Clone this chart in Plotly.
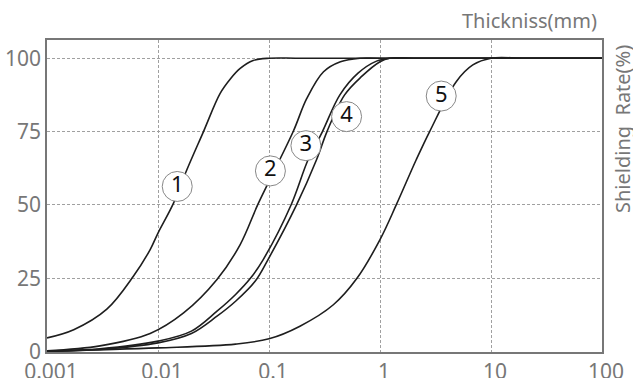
import plotly.graph_objects as go

# thickness (mm) vs shielding rate (%), five materials
x1 = [0.001, 0.00174, 0.00346, 0.006, 0.0085, 0.01, 0.0138, 0.0182, 0.0257, 0.0363, 0.045, 0.055, 0.072, 0.1, 0.2, 100]
y1 = [4.7, 7.5, 14.5, 25.7, 34.8, 40.4, 50.6, 62.0, 75.0, 88.0, 93.0, 96.5, 99.2, 100, 100, 100]

x2 = [0.001, 0.003, 0.0085, 0.017, 0.034, 0.055, 0.079, 0.103, 0.166, 0.219, 0.31, 0.44, 0.66, 1.0, 100]
y2 = [0.3, 2.0, 6.2, 13.2, 24.6, 36.5, 50.0, 59.0, 75.2, 86.3, 95.4, 98.8, 100, 100, 100]

x3 = [0.001, 0.003, 0.01, 0.02, 0.034, 0.05, 0.068, 0.0887, 0.158, 0.225, 0.303, 0.435, 0.634, 0.93, 1.22, 2.0, 100]
y3 = [0.2, 1.0, 3.6, 7.0, 13.8, 19.5, 25.0, 31.4, 50.0, 65.4, 75.0, 87.5, 94.9, 99.0, 100, 100, 100]

x4 = [0.001, 0.003, 0.01, 0.02, 0.034, 0.05, 0.075, 0.098, 0.177, 0.268, 0.333, 0.48, 0.68, 1.0, 1.22, 2.0, 100]
y4 = [0.1, 0.8, 3.0, 6.2, 12.1, 17.2, 24.0, 31.4, 50.0, 65.4, 75.0, 87.5, 93.7, 98.8, 100, 100, 100]

x5 = [0.001, 0.01, 0.05, 0.1, 0.19, 0.38, 0.62, 1.0, 1.4, 2.12, 2.8, 4.86, 6.86, 10, 20, 100]
y5 = [0.2, 1.3, 2.6, 4.4, 8.7, 16.0, 25.0, 38.2, 50.0, 65.4, 75.0, 92.0, 97.7, 100, 100, 100]

# circled curve numbers
label_text = ["1", "2", "3", "4", "5"]
label_x = [0.0149, 0.103, 0.215, 0.50, 3.56]
label_y = [56.3, 61.6, 70.2, 80.1, 87.1]

y_ticks = [0, 25, 50, 75, 100]
x_ticks = [0.001, 0.01, 0.1, 1, 10, 100]
x_tick_text = ["0.001", "0.01", "0.1", "1", "10", "100"]

gray = "#777777"
font = "Noto Sans"

fig = go.Figure()
for xs, ys in [(x1, y1), (x2, y2), (x3, y3), (x4, y4), (x5, y5)]:
    fig.add_trace(go.Scatter(x=xs, y=ys, mode="lines",
                             line=dict(color="#1e1e1e", width=1.6, shape="spline", smoothing=1.0)))

fig.add_trace(go.Scatter(x=label_x, y=label_y, mode="markers+text", text=label_text,
                         textposition="middle center",
                         textfont=dict(family=font, size=22, color="#111111"),
                         marker=dict(size=30, color="white", line=dict(color="#888888", width=1))))

fig.update_xaxes(type="log", range=[-3, 2], tickvals=x_ticks, ticktext=x_tick_text,
                 showgrid=True, gridcolor="#a0a0a0", griddash="3px,2px", gridwidth=1,
                 showline=True, linecolor=gray, linewidth=1.5, mirror=True,
                 ticks="", ticklabelshift=4, automargin=False,
                 tickfont=dict(family=font, size=21, color=gray), zeroline=False)
fig.update_yaxes(range=[-0.1, 106.2], tickvals=y_ticks,
                 showgrid=True, gridcolor="#a0a0a0", griddash="3px,2px", gridwidth=1,
                 showline=True, linecolor=gray, linewidth=1.5, mirror=True,
                 ticks="", automargin=False,
                 tickfont=dict(family=font, size=21, color=gray), zeroline=False)

fig.add_annotation(text="Thickniss(mm)", xref="paper", yref="paper", x=1, y=1,
                   xanchor="right", yanchor="bottom", xshift=-3, yshift=4, showarrow=False,
                   font=dict(family=font, size=20, color=gray))
fig.add_annotation(text="Shielding\u00a0 Rate(%)", xref="paper", yref="paper", x=1, y=1,
                   xanchor="center", yanchor="middle", xshift=20, yshift=-89,
                   textangle=-90, showarrow=False,
                   font=dict(family=font, size=20, color=gray))

fig.update_layout(width=633, height=378, showlegend=False,
                  margin=dict(l=47, r=31, t=40, b=26),
                  plot_bgcolor="white", paper_bgcolor="white")
# drop the default body margin so the figure fills the window without scrollbars
fig.write_html("out.html", config={"displayModeBar": False},
               post_script="document.body.style.margin='0';document.body.style.overflow='hidden';")
